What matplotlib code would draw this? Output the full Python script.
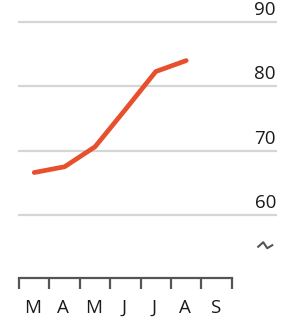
import matplotlib
matplotlib.use("Agg")
import matplotlib.pyplot as plt
from matplotlib.transforms import offset_copy

months = ["M", "A", "M", "J", "J", "A", "S"]
values = [66.6, 67.5, 70.6, 76.4, 82.3, 84.0]
y_ticks = [60, 70, 80, 90]

W, H = 296, 323
fig = plt.figure(figsize=(W / 100, H / 100), dpi=100)
ax = fig.add_axes([18 / W, 0, (277 - 18) / W, 1])
ax.set_xlim(-0.033, 8.487)
ax.set_ylim(43.21, 93.42)
base = 50.21

for s in ["top", "right", "left"]:
    ax.spines[s].set_visible(False)
ax.spines["bottom"].set_position(("data", base))
ax.spines["bottom"].set_bounds(0, 7)
ax.spines["bottom"].set_color("#555555")
ax.spines["bottom"].set_linewidth(1.6)

# gridlines + right-side labels sitting above them
for v in y_ticks:
    ax.axhline(v, color="#d4d6d6", lw=1.6, zorder=1)
    ax.text(8.45, v, str(v), ha="right", va="bottom", fontsize=13.5,
            family="Open Sans", color="#1a1a1a",
            transform=offset_copy(ax.transData, fig=fig, y=3, units="dots"))

ax.set_yticks([])
ax.set_xticks(range(8))
ax.set_xticklabels([])
ax.tick_params(axis="x", which="major", direction="out", length=8,
               width=1.6, color="#555555")
ax.set_xticks([i + 0.45 for i in range(len(months))], minor=True)
ax.set_xticklabels(months, minor=True, fontsize=13.5, family="Open Sans",
                   color="#1a1a1a")
ax.tick_params(axis="x", which="minor", length=0, pad=15)

x = [i + 0.5 for i in range(len(values))]
ax.plot(x, values, color="#e8502d", lw=3.4, solid_capstyle="round",
        solid_joinstyle="round", zorder=3)

# axis break squiggle
bx, by = 8.1, 55.3
sq_dx = [-7, -2, 2, 7]
sq_dy = [-1.5, 3, -3, 0]
ax.plot([bx + d / 30.4 for d in sq_dx], [by + d / 6.433 for d in sq_dy],
        color="#555555", lw=1.5, clip_on=False)

fig.savefig("out.png", dpi=100)
